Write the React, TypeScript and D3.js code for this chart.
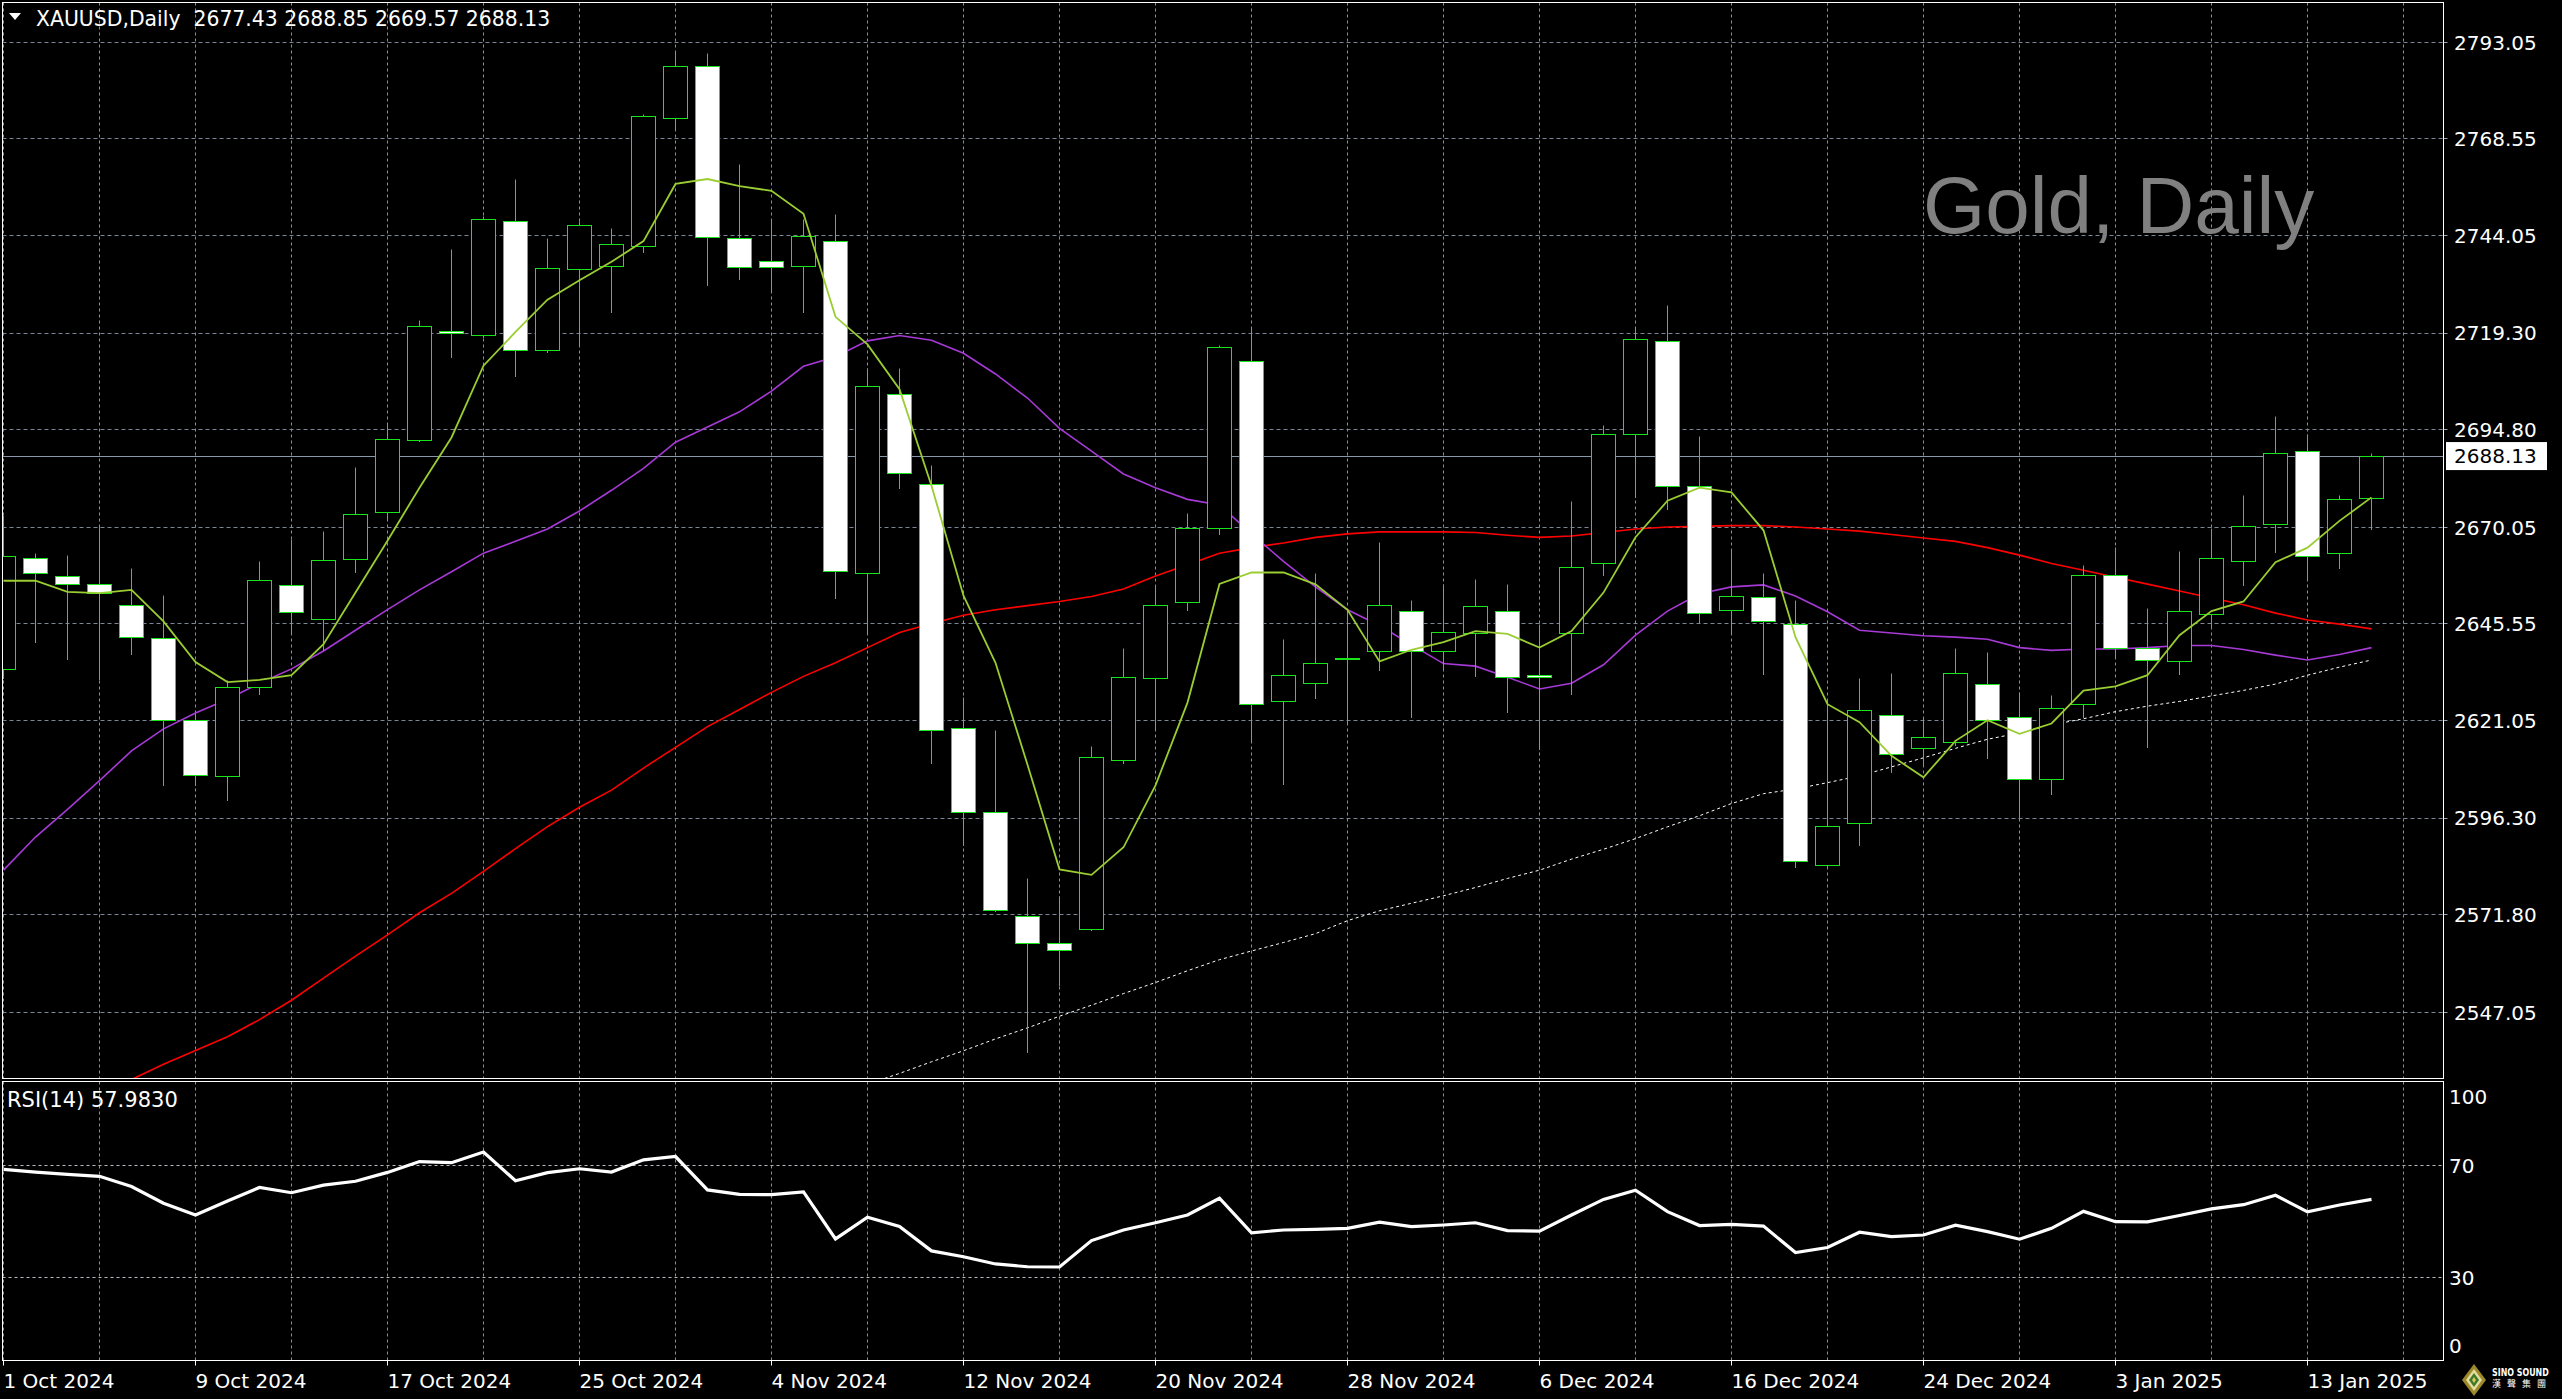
import React, { useEffect } from 'react';
import * as d3 from 'd3';

const W = 2562;
const H = 1399;

// ---------- DATA ----------
const dates: string[] = [
  '2024-10-01','2024-10-02','2024-10-03','2024-10-04','2024-10-07','2024-10-08','2024-10-09','2024-10-10','2024-10-11','2024-10-14',
  '2024-10-15','2024-10-16','2024-10-17','2024-10-18','2024-10-21','2024-10-22','2024-10-23','2024-10-24','2024-10-25','2024-10-28',
  '2024-10-29','2024-10-30','2024-10-31','2024-11-01','2024-11-04','2024-11-05','2024-11-06','2024-11-07','2024-11-08','2024-11-11',
  '2024-11-12','2024-11-13','2024-11-14','2024-11-15','2024-11-18','2024-11-19','2024-11-20','2024-11-21','2024-11-22','2024-11-25',
  '2024-11-26','2024-11-27','2024-11-28','2024-11-29','2024-12-02','2024-12-03','2024-12-04','2024-12-05','2024-12-06','2024-12-09',
  '2024-12-10','2024-12-11','2024-12-12','2024-12-13','2024-12-16','2024-12-17','2024-12-18','2024-12-19','2024-12-20','2024-12-23',
  '2024-12-24','2024-12-26','2024-12-27','2024-12-30','2024-12-31','2025-01-02','2025-01-03','2025-01-06','2025-01-07','2025-01-08',
  '2025-01-09','2025-01-10','2025-01-13','2025-01-14','2025-01-15',
];

const open: number[] = [
  2633.97,2662.10,2657.55,2655.45,2650.20,2641.85,2621.05,2606.90,2629.40,2655.30,
  2646.70,2661.90,2673.80,2692.15,2719.60,2718.70,2747.55,2714.85,2735.50,2736.20,
  2741.25,2773.75,2786.85,2743.20,2737.40,2736.20,2742.65,2658.45,2703.85,2680.80,
  2618.95,2597.65,2571.25,2564.60,2568.10,2610.90,2631.70,2651.10,2669.80,2712.05,
  2625.95,2630.50,2636.75,2638.50,2648.65,2638.50,2643.05,2648.80,2632.60,2643.05,
  2660.90,2693.70,2717.30,2680.30,2649.00,2652.15,2645.50,2584.35,2594.85,2622.25,
  2613.85,2615.60,2630.30,2621.75,2606.15,2625.05,2657.95,2639.35,2636.05,2647.95,
  2661.40,2670.85,2689.35,2663.33,2677.43,
];
const high: number[] = [
  2673.11,2663.33,2662.80,2670.50,2659.50,2652.85,2622.95,2631.20,2661.40,2667.00,
  2668.95,2685.35,2696.20,2722.55,2740.55,2748.90,2758.40,2743.35,2747.55,2745.95,
  2774.80,2790.50,2790.20,2762.20,2748.25,2748.25,2749.45,2710.35,2710.35,2685.85,
  2626.80,2618.40,2581.05,2576.30,2614.55,2639.20,2655.30,2673.65,2716.25,2720.65,
  2641.50,2658.25,2649.15,2666.30,2651.45,2655.45,2656.70,2655.45,2645.50,2676.60,
  2695.80,2720.80,2726.25,2693.05,2664.50,2658.45,2651.45,2626.30,2631.70,2633.10,
  2621.90,2639.20,2638.35,2628.20,2627.50,2660.40,2665.05,2649.35,2664.05,2669.80,
  2678.20,2698.15,2693.70,2678.20,2688.85,
];
const low: number[] = [
  2631.70,2640.79,2636.60,2631.35,2637.80,2604.60,2604.60,2600.75,2627.70,2642.90,
  2638.70,2658.60,2671.90,2691.80,2713.10,2718.30,2708.20,2714.50,2716.10,2724.65,
  2739.85,2770.80,2731.45,2732.85,2729.70,2724.65,2651.97,2642.90,2679.95,2610.20,
  2589.40,2572.50,2536.85,2553.95,2567.75,2610.20,2618.60,2649.00,2668.20,2615.45,
  2604.80,2626.60,2620.20,2633.80,2621.75,2634.00,2632.20,2623.10,2613.70,2627.70,
  2657.90,2677.50,2674.55,2645.85,2642.90,2632.75,2583.65,2584.00,2589.40,2607.90,
  2609.30,2614.75,2611.40,2595.90,2602.30,2621.75,2636.75,2614.20,2632.75,2644.80,
  2655.30,2663.70,2656.50,2659.50,2669.57,
];
const close: number[] = [
  2662.63,2658.26,2655.60,2653.20,2642.20,2621.05,2607.05,2629.40,2656.50,2648.50,
  2661.75,2673.30,2692.30,2720.98,2719.20,2748.25,2714.85,2735.65,2746.50,2741.80,
  2774.30,2786.85,2743.50,2736.00,2736.00,2743.70,2658.95,2705.80,2683.75,2618.60,
  2597.65,2572.80,2564.60,2562.70,2611.60,2631.85,2650.20,2669.65,2715.55,2625.05,
  2632.60,2635.40,2636.60,2650.20,2638.50,2643.40,2649.85,2632.05,2631.85,2659.85,
  2693.70,2717.65,2680.45,2648.15,2652.50,2646.20,2585.20,2594.15,2623.50,2612.45,
  2616.65,2633.10,2621.05,2606.00,2624.20,2657.95,2639.20,2636.40,2648.65,2662.10,
  2670.15,2688.70,2662.60,2677.15,2688.13,
];

// moving averages (yellow-green, purple, red, white dotted)
const maFast: (number | null)[] = [
  2656.5,2656.5,2653.7,2653.35,2654.2,2646.2,2635.9,2630.8,2631.35,2632.55,
  2640.4,2653.55,2666.65,2680.1,2692.85,2711.05,2719.6,2727.8,2732.7,2737.4,
  2742.65,2757.15,2758.4,2756.6,2755.4,2749.6,2723.45,2716.45,2705.1,2680.6,
  2652.7,2635.7,2609.85,2583.3,2581.9,2588.9,2604.6,2625.6,2655.7,2658.6,
  2658.6,2655.6,2649.15,2636.05,2639.0,2640.95,2643.75,2643.05,2639.55,2643.75,
  2653.5,2667.55,2676.8,2680.1,2678.9,2669.3,2642.2,2625.2,2620.65,2612.1,
  2606.65,2615.9,2621.15,2617.7,2620.3,2628.65,2629.7,2632.55,2642.7,2648.8,
  2651.25,2661.2,2664.9,2671.7,2677.65,
];
const maMid: (number | null)[] = [
  2583.1,2591.5,2598.5,2605.8,2613.35,2618.95,2622.95,2626.45,2630.5,2634.15,
  2638.7,2643.95,2649.2,2654.2,2658.8,2663.5,2666.5,2669.65,2674.2,2679.45,
  2685.0,2691.65,2695.5,2699.35,2704.6,2710.9,2713.3,2717.35,2718.7,2717.5,
  2714.2,2708.95,2702.85,2695.15,2689.4,2683.6,2680.1,2677.15,2675.75,2668.4,
  2661.4,2654.95,2649.15,2645.15,2640.25,2635.5,2634.85,2632.05,2629.05,2630.5,
  2635.2,2642.7,2648.8,2653.2,2654.95,2655.45,2652.65,2648.65,2643.95,2643.25,
  2642.55,2642.2,2641.65,2639.55,2638.85,2639.2,2639.2,2639.55,2640.1,2640.1,
  2639.05,2637.65,2636.4,2637.8,2639.55,
];
const maSlow: (number | null)[] = [
  null,null,null,null,2530.0,2533.85,2537.35,2540.85,2545.2,2550.1,
  2555.7,2561.3,2566.7,2572.3,2577.2,2582.8,2588.55,2594.15,2599.05,2603.4,
  2609.0,2614.25,2619.5,2623.85,2628.2,2632.25,2635.7,2639.55,2643.4,2645.65,
  2647.75,2649.15,2650.2,2651.25,2652.5,2654.4,2657.7,2660.55,2663.5,2664.9,
  2666.1,2667.5,2668.4,2668.9,2668.9,2668.9,2668.75,2668.05,2667.5,2667.85,
  2668.75,2669.65,2670.15,2670.3,2670.5,2670.5,2670.15,2669.65,2669.1,2668.25,
  2667.35,2666.5,2664.9,2663.0,2660.9,2659.15,2657.4,2655.65,2653.9,2652.15,
  2650.4,2648.3,2646.55,2645.5,2644.3,
];
const maLong: (number | null)[] = [
  null,null,null,null,null,null,null,null,null,null,
  null,null,null,null,null,null,null,null,null,null,
  null,null,null,null,null,null,null,2528.8,2531.55,2534.5,
  2537.3,2540.3,2543.1,2546.05,2548.85,2551.8,2554.6,2557.6,2560.4,2562.6,
  2564.75,2567.0,2570.3,2572.8,2574.7,2576.6,2578.7,2581.0,2583.1,2585.9,
  2588.4,2591.1,2594.1,2596.9,2600.0,2602.5,2603.7,2605.3,2607.0,2609.3,
  2611.6,2614.0,2616.3,2617.9,2619.95,2621.5,2623.3,2624.7,2625.9,2627.3,
  2628.7,2630.3,2632.55,2634.6,2636.4,
];

const rsi: number[] = [
  68.8,67.8,67.0,66.3,62.6,56.6,52.4,57.4,62.3,60.4,
  63.1,64.5,67.7,71.6,71.2,75.0,64.7,67.6,69.0,67.8,
  72.2,73.4,61.4,59.8,59.7,60.7,43.8,51.6,48.3,39.5,
  37.4,34.8,33.8,33.7,43.2,47.0,49.6,52.4,58.4,46.0,
  47.0,47.2,47.6,49.8,48.2,48.8,49.6,46.8,46.6,52.4,
  58.0,61.3,53.6,48.6,49.0,48.4,38.9,40.7,46.2,44.6,
  45.2,48.7,46.4,43.7,47.6,53.7,50.0,49.9,52.2,54.6,
  56.1,59.5,53.5,56.0,57.983,
];

const priceTicks: number[] = [2793.05, 2768.55, 2744.05, 2719.30, 2694.80, 2670.05, 2645.55, 2621.05, 2596.30, 2571.80, 2547.05];
const rsiTicks: number[] = [100, 70, 30, 0];
const rsiLevels: number[] = [70, 30];
const headerSymbol = 'XAUUSD,Daily';
const headerOHLC: number[] = [2677.43, 2688.85, 2669.57, 2688.13];
const rsiName = 'RSI(14)';
const watermark = 'Gold, Daily';
const lastPrice = 2688.13;
const logoName = 'SINO SOUND';
const logoChinese = '漢聲集團';

// ---------- LAYOUT ----------
const LEFT = 2.5;
const RIGHT = 2443.5;
const MAIN_TOP = 2.5;
const MAIN_BOT = 1078.5;
const RSI_TOP = 1081.5;
const RSI_BOT = 1360.5;
const BAR_STEP = 32;
const BODY_W = 24;

const GREEN = '#19e319';
const FONT = '"DejaVu Sans", Verdana, sans-serif';

export default function App() {
  useEffect(() => {
    document.body.style.margin = '0';
    document.body.style.overflow = 'hidden';
    document.body.style.background = '#000';
  }, []);

  const n = close.length;
  const x = d3.scaleLinear().domain([0, 1]).range([3.5, 3.5 + BAR_STEP]);
  const y = d3.scaleLinear().domain([2547.05, 2793.05]).range([1012.3, 42.4]);
  const yr = d3.scaleLinear().domain([0, 100]).range([1360.8, 1082.5]);
  const fmtDate = d3.timeFormat('%-d %b %Y');
  const parse = d3.timeParse('%Y-%m-%d');

  const snap = (v: number) => Math.round(v - 0.5) + 0.5;

  const maLine = d3
    .line<number | null>()
    .defined((v) => v != null)
    .x((_, i) => x(i))
    .y((v) => y(v as number));

  const rsiLine = d3
    .line<number>()
    .x((_, i) => x(i))
    .y((v) => yr(v));

  const vGridBars = d3.range(0, 76, 3);
  const labelBars = d3.range(0, n, 6);

  const candles = d3.range(n).map((i) => {
    const o = open[i], c = close[i], h = high[i], l = low[i];
    const cx = x(i);
    const top = snap(y(Math.max(o, c)));
    const bot = snap(y(Math.min(o, c)));
    const bull = c >= o;
    return (
      <g key={i}>
        <line x1={cx} x2={cx} y1={snap(y(h))} y2={snap(y(l)) + 0.5} stroke={GREEN} strokeWidth={1} />
        {bot - top < 1 ? (
          <line x1={cx - BODY_W / 2} x2={cx + BODY_W / 2} y1={top} y2={top} stroke={GREEN} strokeWidth={1} />
        ) : (
          <rect
            x={cx - BODY_W / 2}
            y={top}
            width={BODY_W}
            height={bot - top}
            fill={bull ? '#000000' : '#ffffff'}
            stroke={GREEN}
            strokeWidth={1}
          />
        )}
      </g>
    );
  });

  const lastY = snap(y(lastPrice));

  return (
    <svg
      width={W}
      height={H}
      viewBox={`0 0 ${W} ${H}`}
      style={{ position: 'absolute', left: 0, top: 0, display: 'block', background: '#000' }}
    >
      <defs>
        <clipPath id="mainClip">
          <rect x={LEFT} y={MAIN_TOP} width={RIGHT - LEFT} height={MAIN_BOT - MAIN_TOP} />
        </clipPath>
        <clipPath id="rsiClip">
          <rect x={LEFT} y={RSI_TOP} width={RIGHT - LEFT} height={RSI_BOT - RSI_TOP} />
        </clipPath>
      </defs>
      <rect x={0} y={0} width={W} height={H} fill="#000" />

      {/* main panel grid */}
      <g clipPath="url(#mainClip)">
        {priceTicks.map((p) => (
          <line key={p} x1={LEFT} x2={RIGHT} y1={snap(y(p))} y2={snap(y(p))} stroke="#7b8796" strokeDasharray="4 3" strokeWidth={1} />
        ))}
        {vGridBars.map((b) => (
          <line key={b} x1={x(b)} x2={x(b)} y1={MAIN_TOP} y2={MAIN_BOT} stroke="#8a8f96" strokeDasharray="3 3" strokeWidth={1} />
        ))}
      </g>
      {priceTicks.map((p) => (
        <line key={'t' + p} x1={RIGHT} x2={RIGHT + 4} y1={snap(y(p))} y2={snap(y(p))} stroke="#9aa4b0" strokeWidth={1} />
      ))}

      {/* watermark */}
      <text x={1923} y={233} fill="#808080" fontFamily='"Liberation Sans", Arial, sans-serif' fontSize={80}>
        {watermark}
      </text>

      {/* current price line */}
      <line x1={LEFT} x2={RIGHT} y1={lastY} y2={lastY} stroke="#8a97a8" strokeWidth={1} />

      <g clipPath="url(#mainClip)">
        <path d={maLine(maLong) || ''} fill="none" stroke="#ffffff" strokeWidth={1} strokeDasharray="3 3" />
        <path d={maLine(maSlow) || ''} fill="none" stroke="#ff0000" strokeWidth={1.6} />
        <path d={maLine(maMid) || ''} fill="none" stroke="#a63ad6" strokeWidth={1.6} />
        {candles}
        <path d={maLine(maFast) || ''} fill="none" stroke="#9acd32" strokeWidth={1.8} />
      </g>

      {/* RSI panel grid */}
      <g clipPath="url(#rsiClip)">
        {vGridBars.map((b) => (
          <line key={b} x1={x(b)} x2={x(b)} y1={RSI_TOP} y2={RSI_BOT} stroke="#8a8f96" strokeDasharray="3 3" strokeWidth={1} />
        ))}
        {rsiLevels.map((v) => (
          <line key={v} x1={LEFT} x2={RIGHT} y1={snap(yr(v))} y2={snap(yr(v))} stroke="#b4bac2" strokeDasharray="3 3" strokeWidth={1} />
        ))}
        <path d={rsiLine(rsi) || ''} fill="none" stroke="#ffffff" strokeWidth={3.2} strokeLinejoin="miter" />
      </g>

      {/* panel borders */}
      <rect x={LEFT} y={MAIN_TOP} width={RIGHT - LEFT} height={MAIN_BOT - MAIN_TOP} fill="none" stroke="#ffffff" strokeWidth={1} />
      <rect x={LEFT} y={RSI_TOP} width={RIGHT - LEFT} height={RSI_BOT - RSI_TOP} fill="none" stroke="#ffffff" strokeWidth={1} />

      {/* price axis labels */}
      {priceTicks.map((p) => (
        <text key={'l' + p} x={2454} y={y(p) + 7.3} fill="#ffffff" fontFamily={FONT} fontSize={20}>
          {p.toFixed(2)}
        </text>
      ))}
      <rect x={2446} y={y(lastPrice) - 14} width={101} height={28} fill="#ffffff" />
      <text x={2454} y={y(lastPrice) + 7.3} fill="#000000" fontFamily={FONT} fontSize={20}>
        {lastPrice.toFixed(2)}
      </text>

      {/* RSI axis labels */}
      {rsiTicks.map((v) => {
        const cy = Math.max(RSI_TOP + 15.5, Math.min(RSI_BOT - 14.5, yr(v)));
        return (
          <text key={'r' + v} x={2449} y={cy + 7.3} fill="#ffffff" fontFamily={FONT} fontSize={20}>
            {String(v)}
          </text>
        );
      })}

      {/* date axis */}
      {labelBars.map((b) => (
        <g key={'d' + b}>
          <line x1={x(b)} x2={x(b)} y1={RSI_BOT} y2={RSI_BOT + 5} stroke="#ffffff" strokeWidth={1} />
          <text x={x(b)} y={1388} fill="#ffffff" fontFamily={FONT} fontSize={20}>
            {fmtDate(parse(dates[b]) as Date)}
          </text>
        </g>
      ))}

      {/* header */}
      <path d="M9,13 L21,13 L15,20 Z" fill="#ffffff" />
      <text x={36} y={26} fill="#ffffff" fontFamily={FONT} fontSize={20.4} xmlSpace="preserve">
        {`${headerSymbol}  ${headerOHLC.map((v) => v.toFixed(2)).join(' ')}`}
      </text>
      <text x={7} y={1107} fill="#ffffff" fontFamily={FONT} fontSize={21}>
        {`${rsiName} ${rsi[rsi.length - 1].toFixed(4)}`}
      </text>

      {/* logo */}
      <g>
        <polygon points="2474,1364 2486,1380 2474,1396 2462,1380" fill="#9c8a2c" />
        <polygon points="2474,1369 2482,1380 2474,1391 2466,1380" fill="#e6dba0" />
        <polygon points="2474,1373 2479,1380 2474,1387 2469,1380" fill="#3d7a2a" />
        <polygon points="2474,1377 2476,1380 2474,1383 2472,1380" fill="#d8c860" />
        <text transform="translate(2492,1376) scale(0.72,1)" fill="#ffffff" fontFamily={FONT} fontWeight="bold" fontSize={11}>
          {logoName}
        </text>
        <text x={2492} y={1387} fill="#ffffff" fontFamily='"Noto Sans CJK TC", sans-serif' fontSize={9} letterSpacing={6}>
          {logoChinese}
        </text>
      </g>
    </svg>
  );
}
